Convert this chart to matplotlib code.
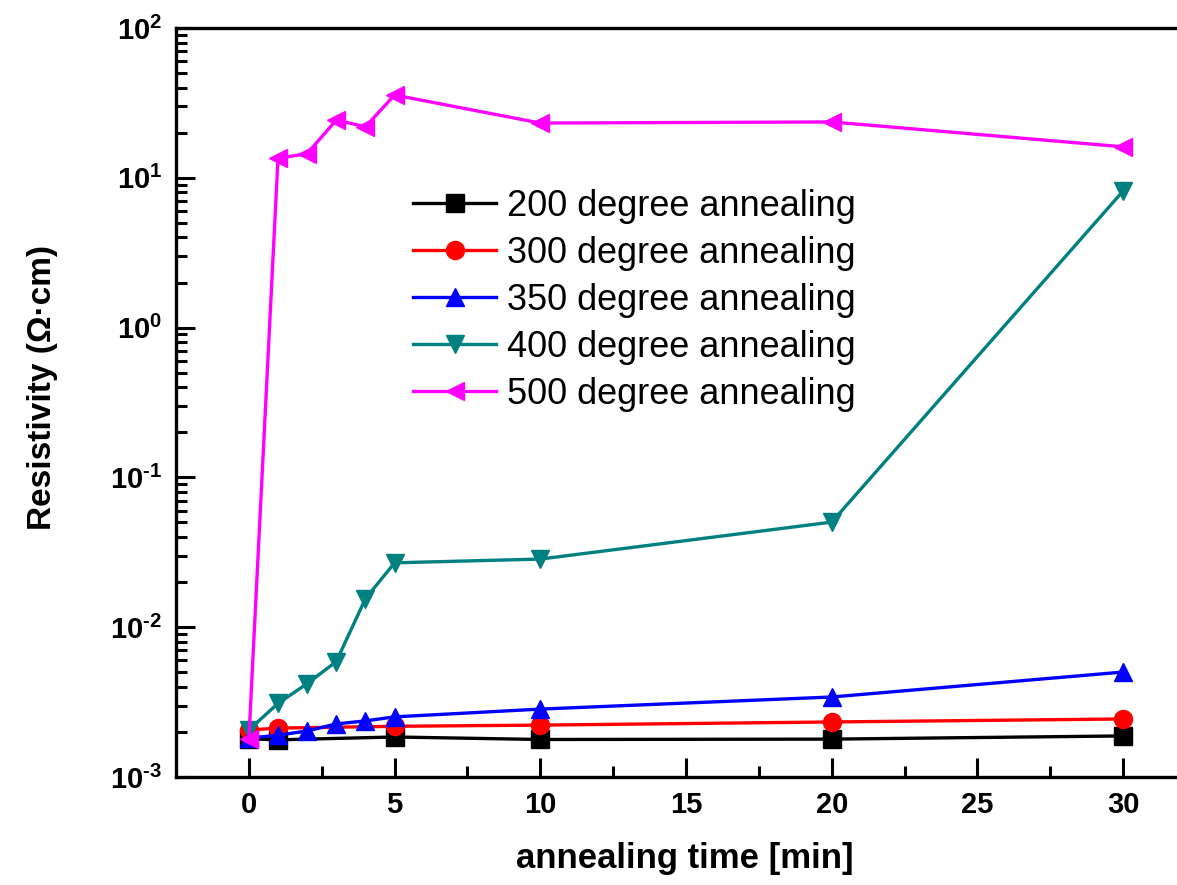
import matplotlib
matplotlib.use("Agg")
import matplotlib.pyplot as plt
from matplotlib.ticker import FixedLocator, LogLocator, FuncFormatter, NullFormatter
import numpy as np

plt.rcParams['font.family'] = ['Liberation Sans', 'DejaVu Sans']
plt.rcParams['mathtext.fontset'] = 'custom'
plt.rcParams['mathtext.rm'] = 'Liberation Sans:bold'
plt.rcParams['mathtext.bf'] = 'Liberation Sans:bold'

# annealing time [min] and resistivity [Ohm cm] per series
t_200 = [0, 1, 5, 10, 20, 30]
r_200 = [1.80e-3, 1.77e-3, 1.85e-3, 1.78e-3, 1.79e-3, 1.88e-3]

t_300 = [0, 1, 5, 10, 20, 30]
r_300 = [2.06e-3, 2.12e-3, 2.18e-3, 2.22e-3, 2.33e-3, 2.44e-3]

t_350 = [0, 1, 2, 3, 4, 5, 10, 20, 30]
r_350 = [1.82e-3, 1.90e-3, 2.03e-3, 2.26e-3, 2.37e-3, 2.52e-3, 2.84e-3, 3.42e-3, 5.02e-3]

t_400 = [0, 1, 2, 3, 4, 5, 10, 20, 30]
r_400 = [2.06e-3, 3.1e-3, 4.2e-3, 5.9e-3, 1.55e-2, 2.69e-2, 2.85e-2, 5.03e-2, 8.17]

t_500 = [0, 1, 2, 3, 4, 5, 10, 20, 30]
r_500 = [1.78e-3, 13.5, 14.5, 24.3, 21.9, 35.7, 23.2, 23.6, 16.1]

labels = ['200 degree annealing', '300 degree annealing', '350 degree annealing',
          '400 degree annealing', '500 degree annealing']

fig = plt.figure(figsize=(11.77, 8.85), dpi=100)
ax = fig.add_axes([176/1177, 1 - 777/885, (1196 - 176)/1177, (777 - 28)/885])

styles = [('black', 's'), ('#ff0000', 'o'), ('#0000ff', '^'), ('#008080', 'v'), ('#ff00ff', '<')]
series = [(t_200, r_200), (t_300, r_300), (t_350, r_350), (t_400, r_400), (t_500, r_500)]
for (t, r), (c, m), lab in zip(series, styles, labels):
    ax.plot(t, r, color=c, marker=m, markersize=13, linewidth=2.4, label=lab)

ax.set_yscale('log')
ax.set_ylim(1e-3, 1e2)
ax.set_xlim(-2.5, 32.5)


def exp_fmt(v, p):
    e = int(round(np.log10(v)))
    if e < 0:
        return r'$\mathbf{10^{\text{-}%d}}$' % (-e)
    return r'$\mathbf{10^{%d}}$' % e


ax.xaxis.set_major_locator(FixedLocator([0, 5, 10, 15, 20, 25, 30]))
ax.xaxis.set_minor_locator(FixedLocator([2.5, 7.5, 12.5, 17.5, 22.5, 27.5]))
ax.yaxis.set_major_locator(LogLocator(base=10, numticks=10))
ax.yaxis.set_minor_locator(LogLocator(base=10, subs=np.arange(2, 10), numticks=10))
ax.yaxis.set_minor_formatter(NullFormatter())
ax.yaxis.set_major_formatter(FuncFormatter(exp_fmt))

ax.tick_params(axis='both', which='major', direction='in', length=14, width=2.2,
               top=False, right=False)
ax.tick_params(axis='x', which='major', labelsize=21, pad=10)
ax.tick_params(axis='y', which='major', labelsize=21, pad=10)
ax.tick_params(axis='both', which='minor', direction='in', length=8, width=2.2,
               top=False, right=False)
for lbl in ax.get_xticklabels():
    lbl.set_fontweight('bold')

for s in ['left', 'bottom', 'top', 'right']:
    ax.spines[s].set_linewidth(2.4)

ax.set_xlabel('annealing time [min]', fontsize=25, fontweight='bold')
ax.set_ylabel('Resistivity (Ω·cm)', fontsize=24, fontweight='bold')
ax.xaxis.set_label_coords((685 - 176) / 1020, (777 - 842) / 749)
ax.yaxis.set_label_coords((58 - 176) / 1020, (777 - 387) / 749)

fig.legend(loc='upper left', bbox_to_anchor=(413/1177, 1 - 189/885), frameon=False,
           fontsize=26, handlelength=2.3, handletextpad=0.3, labelspacing=0.33,
           borderpad=0, borderaxespad=0)

fig.savefig('out.png', dpi=100)
